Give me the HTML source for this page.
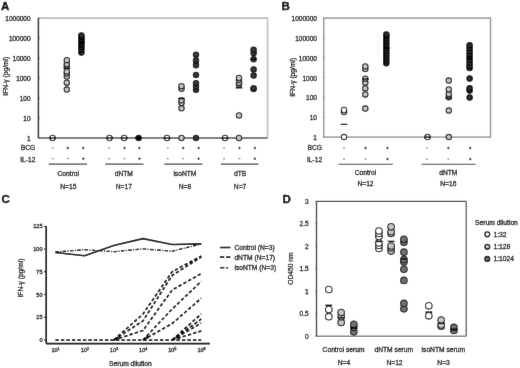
<!DOCTYPE html>
<html><head><meta charset="utf-8"><style>
html,body{margin:0;padding:0;background:#fff;}
svg{display:block;font-family:"Liberation Sans", sans-serif;}
</style></head><body>
<svg width="520" height="368" viewBox="0 0 520 368">
<defs><filter id="bl" x="0" y="0" width="1" height="1" filterUnits="objectBoundingBox"><feConvolveMatrix order="3" kernelMatrix="0.00276 0.04704 0.00276 0.04704 0.80077 0.04704 0.00276 0.04704 0.00276" edgeMode="duplicate" preserveAlpha="true"/></filter></defs>
<rect width="520" height="368" fill="#fff"/>
<g filter="url(#bl)">
<rect width="520" height="368" fill="#fff"/>
<text x="1.0" y="9.8" font-size="11.5" font-weight="bold" fill="#000" stroke="#000" stroke-width="0.35">A</text>
<line x1="38.4" y1="18.1" x2="267.6" y2="18.1" stroke="#bdbdbd" stroke-width="1.6" />
<line x1="267.6" y1="18.1" x2="267.6" y2="138.0" stroke="#bdbdbd" stroke-width="1.6" />
<line x1="38.4" y1="138.0" x2="267.6" y2="138.0" stroke="#555" stroke-width="1.3" />
<line x1="38.4" y1="18.1" x2="38.4" y2="138.0" stroke="#333" stroke-width="1.6" />
<text x="30.6" y="138.0" font-size="6.5" text-anchor="end" font-weight="normal" fill="#222" stroke="#222" stroke-width="0.3" dominant-baseline="central" >1</text>
<line x1="38.4" y1="138.0" x2="39.9" y2="138.0" stroke="#555" stroke-width="0.8" />
<text x="30.6" y="118.01666666666667" font-size="6.5" text-anchor="end" font-weight="normal" fill="#222" stroke="#222" stroke-width="0.3" dominant-baseline="central" >10</text>
<line x1="38.4" y1="118.01666666666667" x2="39.9" y2="118.01666666666667" stroke="#555" stroke-width="0.8" />
<text x="30.6" y="98.03333333333333" font-size="6.5" text-anchor="end" font-weight="normal" fill="#222" stroke="#222" stroke-width="0.3" dominant-baseline="central" >100</text>
<line x1="38.4" y1="98.03333333333333" x2="39.9" y2="98.03333333333333" stroke="#555" stroke-width="0.8" />
<text x="30.6" y="78.04999999999998" font-size="6.5" text-anchor="end" font-weight="normal" fill="#222" stroke="#222" stroke-width="0.3" dominant-baseline="central" >1000</text>
<line x1="38.4" y1="78.04999999999998" x2="39.9" y2="78.04999999999998" stroke="#555" stroke-width="0.8" />
<text x="30.6" y="58.06666666666666" font-size="6.5" text-anchor="end" font-weight="normal" fill="#222" stroke="#222" stroke-width="0.3" dominant-baseline="central" >10000</text>
<line x1="38.4" y1="58.06666666666666" x2="39.9" y2="58.06666666666666" stroke="#555" stroke-width="0.8" />
<text x="30.6" y="38.08333333333333" font-size="6.5" text-anchor="end" font-weight="normal" fill="#222" stroke="#222" stroke-width="0.3" dominant-baseline="central" >100000</text>
<line x1="38.4" y1="38.08333333333333" x2="39.9" y2="38.08333333333333" stroke="#555" stroke-width="0.8" />
<text x="30.6" y="18.09999999999998" font-size="6.5" text-anchor="end" font-weight="normal" fill="#222" stroke="#222" stroke-width="0.3" dominant-baseline="central" >1000000</text>
<line x1="38.4" y1="18.09999999999998" x2="39.9" y2="18.09999999999998" stroke="#555" stroke-width="0.8" />
<text x="5.9" y="76.2" font-size="6.7" text-anchor="middle" font-weight="normal" fill="#222" stroke="#222" stroke-width="0.3" dominant-baseline="central" transform="rotate(-90 5.9 76.2)">IFN-γ (pg/ml)</text>
<text x="35.3" y="147.4" font-size="6.7" text-anchor="end" font-weight="normal" fill="#222" stroke="#222" stroke-width="0.3" dominant-baseline="central" >BCG</text>
<text x="35.5" y="159.2" font-size="6.7" text-anchor="end" font-weight="normal" fill="#222" stroke="#222" stroke-width="0.3" dominant-baseline="central" >IL-12</text>
<line x1="51.800000000000004" y1="148" x2="53.6" y2="148" stroke="#555" stroke-width="0.9" />
<line x1="66.7" y1="148" x2="69.10000000000001" y2="148" stroke="#111" stroke-width="0.9" />
<line x1="67.9" y1="146.8" x2="67.9" y2="149.2" stroke="#111" stroke-width="0.9" />
<line x1="82.0" y1="148" x2="84.4" y2="148" stroke="#111" stroke-width="0.9" />
<line x1="83.2" y1="146.8" x2="83.2" y2="149.2" stroke="#111" stroke-width="0.9" />
<line x1="51.800000000000004" y1="158.7" x2="53.6" y2="158.7" stroke="#555" stroke-width="0.9" />
<line x1="67.0" y1="158.7" x2="68.80000000000001" y2="158.7" stroke="#555" stroke-width="0.9" />
<line x1="82.0" y1="158.7" x2="84.4" y2="158.7" stroke="#111" stroke-width="0.9" />
<line x1="83.2" y1="157.5" x2="83.2" y2="159.89999999999998" stroke="#111" stroke-width="0.9" />
<line x1="108.19999999999999" y1="148" x2="110.0" y2="148" stroke="#555" stroke-width="0.9" />
<line x1="123.3" y1="148" x2="125.7" y2="148" stroke="#111" stroke-width="0.9" />
<line x1="124.5" y1="146.8" x2="124.5" y2="149.2" stroke="#111" stroke-width="0.9" />
<line x1="138.20000000000002" y1="148" x2="140.6" y2="148" stroke="#111" stroke-width="0.9" />
<line x1="139.4" y1="146.8" x2="139.4" y2="149.2" stroke="#111" stroke-width="0.9" />
<line x1="108.19999999999999" y1="158.7" x2="110.0" y2="158.7" stroke="#555" stroke-width="0.9" />
<line x1="123.6" y1="158.7" x2="125.4" y2="158.7" stroke="#555" stroke-width="0.9" />
<line x1="138.20000000000002" y1="158.7" x2="140.6" y2="158.7" stroke="#111" stroke-width="0.9" />
<line x1="139.4" y1="157.5" x2="139.4" y2="159.89999999999998" stroke="#111" stroke-width="0.9" />
<line x1="166.9" y1="148" x2="168.70000000000002" y2="148" stroke="#555" stroke-width="0.9" />
<line x1="182.0" y1="148" x2="184.39999999999998" y2="148" stroke="#111" stroke-width="0.9" />
<line x1="183.2" y1="146.8" x2="183.2" y2="149.2" stroke="#111" stroke-width="0.9" />
<line x1="197.4" y1="148" x2="199.79999999999998" y2="148" stroke="#111" stroke-width="0.9" />
<line x1="198.6" y1="146.8" x2="198.6" y2="149.2" stroke="#111" stroke-width="0.9" />
<line x1="166.9" y1="158.7" x2="168.70000000000002" y2="158.7" stroke="#555" stroke-width="0.9" />
<line x1="182.29999999999998" y1="158.7" x2="184.1" y2="158.7" stroke="#555" stroke-width="0.9" />
<line x1="197.4" y1="158.7" x2="199.79999999999998" y2="158.7" stroke="#111" stroke-width="0.9" />
<line x1="198.6" y1="157.5" x2="198.6" y2="159.89999999999998" stroke="#111" stroke-width="0.9" />
<line x1="223.2" y1="148" x2="225.0" y2="148" stroke="#555" stroke-width="0.9" />
<line x1="238.3" y1="148" x2="240.7" y2="148" stroke="#111" stroke-width="0.9" />
<line x1="239.5" y1="146.8" x2="239.5" y2="149.2" stroke="#111" stroke-width="0.9" />
<line x1="253.70000000000002" y1="148" x2="256.1" y2="148" stroke="#111" stroke-width="0.9" />
<line x1="254.9" y1="146.8" x2="254.9" y2="149.2" stroke="#111" stroke-width="0.9" />
<line x1="223.2" y1="158.7" x2="225.0" y2="158.7" stroke="#555" stroke-width="0.9" />
<line x1="238.6" y1="158.7" x2="240.4" y2="158.7" stroke="#555" stroke-width="0.9" />
<line x1="253.70000000000002" y1="158.7" x2="256.1" y2="158.7" stroke="#111" stroke-width="0.9" />
<line x1="254.9" y1="157.5" x2="254.9" y2="159.89999999999998" stroke="#111" stroke-width="0.9" />
<line x1="48.8" y1="164.1" x2="86.9" y2="164.1" stroke="#444" stroke-width="1.1" />
<line x1="105.2" y1="164.1" x2="143.5" y2="164.1" stroke="#444" stroke-width="1.1" />
<line x1="164.3" y1="164.1" x2="202.5" y2="164.1" stroke="#444" stroke-width="1.1" />
<line x1="220.9" y1="164.1" x2="258.5" y2="164.1" stroke="#444" stroke-width="1.1" />
<text x="68.3" y="173.9" font-size="6.7" text-anchor="middle" font-weight="normal" fill="#222" stroke="#222" stroke-width="0.3" dominant-baseline="central" >Control</text>
<text x="68.3" y="186.1" font-size="6.7" text-anchor="middle" font-weight="normal" fill="#222" stroke="#222" stroke-width="0.3" dominant-baseline="central" >N=15</text>
<text x="123.8" y="173.9" font-size="6.7" text-anchor="middle" font-weight="normal" fill="#222" stroke="#222" stroke-width="0.3" dominant-baseline="central" >dNTM</text>
<text x="123.8" y="186.1" font-size="6.7" text-anchor="middle" font-weight="normal" fill="#222" stroke="#222" stroke-width="0.3" dominant-baseline="central" >N=17</text>
<text x="184.9" y="173.9" font-size="6.7" text-anchor="middle" font-weight="normal" fill="#222" stroke="#222" stroke-width="0.3" dominant-baseline="central" >isoNTM</text>
<text x="184.9" y="186.1" font-size="6.7" text-anchor="middle" font-weight="normal" fill="#222" stroke="#222" stroke-width="0.3" dominant-baseline="central" >N=8</text>
<text x="240.1" y="173.9" font-size="6.7" text-anchor="middle" font-weight="normal" fill="#222" stroke="#222" stroke-width="0.3" dominant-baseline="central" >dTB</text>
<text x="240.1" y="186.1" font-size="6.7" text-anchor="middle" font-weight="normal" fill="#222" stroke="#222" stroke-width="0.3" dominant-baseline="central" >N=7</text>
<circle cx="52.6" cy="138.0" r="2.7" fill="#ffffff" stroke="#222" stroke-width="1.1"/>
<line x1="49.2" y1="138.0" x2="56.0" y2="138.0" stroke="#000" stroke-width="1.3" />
<circle cx="66.8" cy="89.6" r="2.7" fill="#c4c4c4" stroke="#222" stroke-width="1.1"/>
<circle cx="66.8" cy="82.7" r="2.7" fill="#c4c4c4" stroke="#222" stroke-width="1.1"/>
<circle cx="66.8" cy="76.5" r="2.7" fill="#c4c4c4" stroke="#222" stroke-width="1.1"/>
<circle cx="66.8" cy="73.5" r="2.7" fill="#c4c4c4" stroke="#222" stroke-width="1.1"/>
<circle cx="66.8" cy="71.5" r="2.7" fill="#c4c4c4" stroke="#222" stroke-width="1.1"/>
<circle cx="66.8" cy="66" r="2.7" fill="#c4c4c4" stroke="#222" stroke-width="1.1"/>
<circle cx="66.8" cy="64" r="2.7" fill="#c4c4c4" stroke="#222" stroke-width="1.1"/>
<circle cx="66.8" cy="60.2" r="2.7" fill="#c4c4c4" stroke="#222" stroke-width="1.1"/>
<line x1="63.4" y1="68.2" x2="70.2" y2="68.2" stroke="#000" stroke-width="1.3" />
<circle cx="81.4" cy="52.4" r="2.7" fill="#2e2e2e" stroke="#000" stroke-width="1.1"/>
<circle cx="81.4" cy="49.5" r="2.7" fill="#2e2e2e" stroke="#000" stroke-width="1.1"/>
<circle cx="81.4" cy="47" r="2.7" fill="#2e2e2e" stroke="#000" stroke-width="1.1"/>
<circle cx="81.4" cy="45" r="2.7" fill="#2e2e2e" stroke="#000" stroke-width="1.1"/>
<circle cx="81.4" cy="43" r="2.7" fill="#2e2e2e" stroke="#000" stroke-width="1.1"/>
<circle cx="81.4" cy="41" r="2.7" fill="#2e2e2e" stroke="#000" stroke-width="1.1"/>
<circle cx="81.4" cy="39" r="2.7" fill="#2e2e2e" stroke="#000" stroke-width="1.1"/>
<circle cx="81.4" cy="37" r="2.7" fill="#2e2e2e" stroke="#000" stroke-width="1.1"/>
<circle cx="81.4" cy="35.4" r="2.7" fill="#2e2e2e" stroke="#000" stroke-width="1.1"/>
<line x1="78.0" y1="42.5" x2="84.80000000000001" y2="42.5" stroke="#000" stroke-width="1.3" />
<circle cx="109.5" cy="138.0" r="2.7" fill="#ffffff" stroke="#222" stroke-width="1.1"/>
<line x1="106.1" y1="138.0" x2="112.9" y2="138.0" stroke="#000" stroke-width="1.3" />
<circle cx="124.2" cy="138.0" r="2.7" fill="#ffffff" stroke="#222" stroke-width="1.1"/>
<line x1="120.8" y1="138.0" x2="127.60000000000001" y2="138.0" stroke="#000" stroke-width="1.3" />
<circle cx="138.6" cy="138.0" r="2.7" fill="#111" stroke="#000" stroke-width="1.1"/>
<line x1="135.2" y1="138.0" x2="142.0" y2="138.0" stroke="#000" stroke-width="1.3" />
<circle cx="167" cy="138.0" r="2.7" fill="#ffffff" stroke="#222" stroke-width="1.1"/>
<line x1="163.6" y1="138.0" x2="170.4" y2="138.0" stroke="#000" stroke-width="1.3" />
<circle cx="181.5" cy="138.0" r="2.7" fill="#c4c4c4" stroke="#222" stroke-width="1.1"/>
<circle cx="181.5" cy="108.3" r="2.7" fill="#c4c4c4" stroke="#222" stroke-width="1.1"/>
<circle cx="181.5" cy="103" r="2.7" fill="#c4c4c4" stroke="#222" stroke-width="1.1"/>
<circle cx="181.5" cy="100.3" r="2.7" fill="#c4c4c4" stroke="#222" stroke-width="1.1"/>
<circle cx="181.5" cy="88.8" r="2.7" fill="#c4c4c4" stroke="#222" stroke-width="1.1"/>
<circle cx="181.5" cy="86.2" r="2.7" fill="#c4c4c4" stroke="#222" stroke-width="1.1"/>
<line x1="178.1" y1="98.6" x2="184.9" y2="98.6" stroke="#000" stroke-width="1.3" />
<circle cx="196" cy="138.0" r="2.7" fill="#383838" stroke="#111" stroke-width="1.1"/>
<circle cx="196" cy="89.8" r="2.7" fill="#383838" stroke="#111" stroke-width="1.1"/>
<circle cx="196" cy="86.5" r="2.7" fill="#383838" stroke="#111" stroke-width="1.1"/>
<circle cx="196" cy="83.2" r="2.7" fill="#383838" stroke="#111" stroke-width="1.1"/>
<circle cx="196" cy="75.1" r="2.7" fill="#383838" stroke="#111" stroke-width="1.1"/>
<circle cx="196" cy="65.3" r="2.7" fill="#383838" stroke="#111" stroke-width="1.1"/>
<circle cx="196" cy="60.4" r="2.7" fill="#383838" stroke="#111" stroke-width="1.1"/>
<circle cx="196" cy="54.7" r="2.7" fill="#383838" stroke="#111" stroke-width="1.1"/>
<circle cx="225" cy="138.0" r="2.7" fill="#ffffff" stroke="#222" stroke-width="1.1"/>
<line x1="221.6" y1="138.0" x2="228.4" y2="138.0" stroke="#000" stroke-width="1.3" />
<circle cx="239" cy="138.0" r="2.7" fill="#c4c4c4" stroke="#222" stroke-width="1.1"/>
<circle cx="239" cy="115.5" r="2.7" fill="#c4c4c4" stroke="#222" stroke-width="1.1"/>
<circle cx="239" cy="84.4" r="2.7" fill="#c4c4c4" stroke="#222" stroke-width="1.1"/>
<circle cx="239" cy="82.8" r="2.7" fill="#c4c4c4" stroke="#222" stroke-width="1.1"/>
<circle cx="239" cy="80" r="2.7" fill="#c4c4c4" stroke="#222" stroke-width="1.1"/>
<circle cx="239" cy="77.9" r="2.7" fill="#c4c4c4" stroke="#222" stroke-width="1.1"/>
<line x1="235.6" y1="87.8" x2="242.4" y2="87.8" stroke="#000" stroke-width="1.3" />
<circle cx="253.6" cy="89" r="2.7" fill="#383838" stroke="#111" stroke-width="1.1"/>
<circle cx="253.6" cy="88.2" r="2.7" fill="#383838" stroke="#111" stroke-width="1.1"/>
<circle cx="253.6" cy="75.6" r="2.7" fill="#383838" stroke="#111" stroke-width="1.1"/>
<circle cx="253.6" cy="69.4" r="2.7" fill="#383838" stroke="#111" stroke-width="1.1"/>
<circle cx="253.6" cy="59.3" r="2.7" fill="#383838" stroke="#111" stroke-width="1.1"/>
<circle cx="253.6" cy="53.1" r="2.7" fill="#383838" stroke="#111" stroke-width="1.1"/>
<circle cx="253.6" cy="49.8" r="2.7" fill="#383838" stroke="#111" stroke-width="1.1"/>
<line x1="250.2" y1="59.3" x2="257.0" y2="59.3" stroke="#000" stroke-width="1.3" />
<text x="281.6" y="10.1" font-size="11.5" font-weight="bold" fill="#000" stroke="#000" stroke-width="0.35">B</text>
<rect x="323.7" y="18.1" width="166.8" height="119.0" fill="none" stroke="#999" stroke-width="1.5"/>
<text x="316.9" y="137.5" font-size="6.5" text-anchor="end" font-weight="normal" fill="#222" stroke="#222" stroke-width="0.3" dominant-baseline="central" >1</text>
<line x1="323.7" y1="137.1" x2="325.2" y2="137.1" stroke="#999" stroke-width="0.8" />
<text x="316.9" y="117.66666666666667" font-size="6.5" text-anchor="end" font-weight="normal" fill="#222" stroke="#222" stroke-width="0.3" dominant-baseline="central" >10</text>
<line x1="323.7" y1="117.26666666666667" x2="325.2" y2="117.26666666666667" stroke="#999" stroke-width="0.8" />
<text x="316.9" y="97.83333333333334" font-size="6.5" text-anchor="end" font-weight="normal" fill="#222" stroke="#222" stroke-width="0.3" dominant-baseline="central" >100</text>
<line x1="323.7" y1="97.43333333333334" x2="325.2" y2="97.43333333333334" stroke="#999" stroke-width="0.8" />
<text x="316.9" y="78.0" font-size="6.5" text-anchor="end" font-weight="normal" fill="#222" stroke="#222" stroke-width="0.3" dominant-baseline="central" >1000</text>
<line x1="323.7" y1="77.6" x2="325.2" y2="77.6" stroke="#999" stroke-width="0.8" />
<text x="316.9" y="58.166666666666664" font-size="6.5" text-anchor="end" font-weight="normal" fill="#222" stroke="#222" stroke-width="0.3" dominant-baseline="central" >10000</text>
<line x1="323.7" y1="57.766666666666666" x2="325.2" y2="57.766666666666666" stroke="#999" stroke-width="0.8" />
<text x="316.9" y="38.33333333333332" font-size="6.5" text-anchor="end" font-weight="normal" fill="#222" stroke="#222" stroke-width="0.3" dominant-baseline="central" >100000</text>
<line x1="323.7" y1="37.93333333333332" x2="325.2" y2="37.93333333333332" stroke="#999" stroke-width="0.8" />
<text x="316.9" y="18.499999999999993" font-size="6.5" text-anchor="end" font-weight="normal" fill="#222" stroke="#222" stroke-width="0.3" dominant-baseline="central" >1000000</text>
<line x1="323.7" y1="18.099999999999994" x2="325.2" y2="18.099999999999994" stroke="#999" stroke-width="0.8" />
<text x="292.7" y="77.3" font-size="6.7" text-anchor="middle" font-weight="normal" fill="#222" stroke="#222" stroke-width="0.3" dominant-baseline="central" transform="rotate(-90 292.7 77.3)">IFN-γ (pg/ml)</text>
<text x="322" y="147.4" font-size="6.7" text-anchor="end" font-weight="normal" fill="#222" stroke="#222" stroke-width="0.3" dominant-baseline="central" >BCG</text>
<text x="322.2" y="159.6" font-size="6.7" text-anchor="end" font-weight="normal" fill="#222" stroke="#222" stroke-width="0.3" dominant-baseline="central" >IL-12</text>
<line x1="343.1" y1="148" x2="344.9" y2="148" stroke="#555" stroke-width="0.9" />
<line x1="364.40000000000003" y1="148" x2="366.8" y2="148" stroke="#111" stroke-width="0.9" />
<line x1="365.6" y1="146.8" x2="365.6" y2="149.2" stroke="#111" stroke-width="0.9" />
<line x1="386.3" y1="148" x2="388.7" y2="148" stroke="#111" stroke-width="0.9" />
<line x1="387.5" y1="146.8" x2="387.5" y2="149.2" stroke="#111" stroke-width="0.9" />
<line x1="343.1" y1="159.1" x2="344.9" y2="159.1" stroke="#555" stroke-width="0.9" />
<line x1="364.70000000000005" y1="159.1" x2="366.5" y2="159.1" stroke="#555" stroke-width="0.9" />
<line x1="386.3" y1="159.1" x2="388.7" y2="159.1" stroke="#111" stroke-width="0.9" />
<line x1="387.5" y1="157.9" x2="387.5" y2="160.29999999999998" stroke="#111" stroke-width="0.9" />
<line x1="426.0" y1="148" x2="427.79999999999995" y2="148" stroke="#555" stroke-width="0.9" />
<line x1="447.1" y1="148" x2="449.5" y2="148" stroke="#111" stroke-width="0.9" />
<line x1="448.3" y1="146.8" x2="448.3" y2="149.2" stroke="#111" stroke-width="0.9" />
<line x1="469.0" y1="148" x2="471.4" y2="148" stroke="#111" stroke-width="0.9" />
<line x1="470.2" y1="146.8" x2="470.2" y2="149.2" stroke="#111" stroke-width="0.9" />
<line x1="426.0" y1="159.1" x2="427.79999999999995" y2="159.1" stroke="#555" stroke-width="0.9" />
<line x1="447.40000000000003" y1="159.1" x2="449.2" y2="159.1" stroke="#555" stroke-width="0.9" />
<line x1="469.0" y1="159.1" x2="471.4" y2="159.1" stroke="#111" stroke-width="0.9" />
<line x1="470.2" y1="157.9" x2="470.2" y2="160.29999999999998" stroke="#111" stroke-width="0.9" />
<line x1="338.7" y1="164.3" x2="392.9" y2="164.3" stroke="#444" stroke-width="1.1" />
<line x1="421.7" y1="164.3" x2="475.7" y2="164.3" stroke="#444" stroke-width="1.1" />
<text x="365.5" y="172.4" font-size="6.7" text-anchor="middle" font-weight="normal" fill="#222" stroke="#222" stroke-width="0.3" dominant-baseline="central" >Control</text>
<text x="365.5" y="183.9" font-size="6.7" text-anchor="middle" font-weight="normal" fill="#222" stroke="#222" stroke-width="0.3" dominant-baseline="central" >N=12</text>
<text x="448.3" y="172.4" font-size="6.7" text-anchor="middle" font-weight="normal" fill="#222" stroke="#222" stroke-width="0.3" dominant-baseline="central" >dNTM</text>
<text x="448.3" y="183.9" font-size="6.7" text-anchor="middle" font-weight="normal" fill="#222" stroke="#222" stroke-width="0.3" dominant-baseline="central" >N=16</text>
<circle cx="344" cy="137.1" r="2.7" fill="#ffffff" stroke="#222" stroke-width="1.1"/>
<circle cx="344" cy="111.9" r="2.7" fill="#ffffff" stroke="#222" stroke-width="1.1"/>
<circle cx="344" cy="110" r="2.7" fill="#ffffff" stroke="#222" stroke-width="1.1"/>
<line x1="340.6" y1="124.4" x2="347.4" y2="124.4" stroke="#000" stroke-width="1.3" />
<circle cx="365.3" cy="108.6" r="2.7" fill="#c4c4c4" stroke="#222" stroke-width="1.1"/>
<circle cx="365.3" cy="94.4" r="2.7" fill="#c4c4c4" stroke="#222" stroke-width="1.1"/>
<circle cx="365.3" cy="88.4" r="2.7" fill="#c4c4c4" stroke="#222" stroke-width="1.1"/>
<circle cx="365.3" cy="82.7" r="2.7" fill="#c4c4c4" stroke="#222" stroke-width="1.1"/>
<circle cx="365.3" cy="78.7" r="2.7" fill="#c4c4c4" stroke="#222" stroke-width="1.1"/>
<circle cx="365.3" cy="69" r="2.7" fill="#c4c4c4" stroke="#222" stroke-width="1.1"/>
<circle cx="365.3" cy="66.5" r="2.7" fill="#c4c4c4" stroke="#222" stroke-width="1.1"/>
<line x1="361.90000000000003" y1="79" x2="368.7" y2="79" stroke="#000" stroke-width="1.3" />
<circle cx="386.3" cy="63.3" r="2.7" fill="#2e2e2e" stroke="#000" stroke-width="1.1"/>
<circle cx="386.3" cy="61" r="2.7" fill="#2e2e2e" stroke="#000" stroke-width="1.1"/>
<circle cx="386.3" cy="58.5" r="2.7" fill="#2e2e2e" stroke="#000" stroke-width="1.1"/>
<circle cx="386.3" cy="56" r="2.7" fill="#2e2e2e" stroke="#000" stroke-width="1.1"/>
<circle cx="386.3" cy="53.5" r="2.7" fill="#2e2e2e" stroke="#000" stroke-width="1.1"/>
<circle cx="386.3" cy="51" r="2.7" fill="#2e2e2e" stroke="#000" stroke-width="1.1"/>
<circle cx="386.3" cy="48.5" r="2.7" fill="#2e2e2e" stroke="#000" stroke-width="1.1"/>
<circle cx="386.3" cy="46" r="2.7" fill="#2e2e2e" stroke="#000" stroke-width="1.1"/>
<circle cx="386.3" cy="43.5" r="2.7" fill="#2e2e2e" stroke="#000" stroke-width="1.1"/>
<circle cx="386.3" cy="41" r="2.7" fill="#2e2e2e" stroke="#000" stroke-width="1.1"/>
<circle cx="386.3" cy="38.5" r="2.7" fill="#2e2e2e" stroke="#000" stroke-width="1.1"/>
<circle cx="386.3" cy="36" r="2.7" fill="#2e2e2e" stroke="#000" stroke-width="1.1"/>
<circle cx="386.3" cy="34.5" r="2.7" fill="#2e2e2e" stroke="#000" stroke-width="1.1"/>
<line x1="382.90000000000003" y1="48" x2="389.7" y2="48" stroke="#000" stroke-width="1.3" />
<circle cx="427.5" cy="137.1" r="2.7" fill="#ffffff" stroke="#222" stroke-width="1.1"/>
<line x1="424.1" y1="137.1" x2="430.9" y2="137.1" stroke="#000" stroke-width="1.3" />
<circle cx="448.8" cy="137.1" r="2.7" fill="#c4c4c4" stroke="#222" stroke-width="1.1"/>
<circle cx="448.8" cy="110.6" r="2.7" fill="#c4c4c4" stroke="#222" stroke-width="1.1"/>
<circle cx="448.8" cy="97.2" r="2.7" fill="#c4c4c4" stroke="#222" stroke-width="1.1"/>
<circle cx="448.8" cy="94" r="2.7" fill="#c4c4c4" stroke="#222" stroke-width="1.1"/>
<circle cx="448.8" cy="89.4" r="2.7" fill="#c4c4c4" stroke="#222" stroke-width="1.1"/>
<circle cx="448.8" cy="80.6" r="2.7" fill="#c4c4c4" stroke="#222" stroke-width="1.1"/>
<line x1="445.40000000000003" y1="98" x2="452.2" y2="98" stroke="#000" stroke-width="1.3" />
<circle cx="469.6" cy="97.5" r="2.7" fill="#2e2e2e" stroke="#000" stroke-width="1.1"/>
<circle cx="469.6" cy="90.6" r="2.7" fill="#2e2e2e" stroke="#000" stroke-width="1.1"/>
<circle cx="469.6" cy="88.3" r="2.7" fill="#2e2e2e" stroke="#000" stroke-width="1.1"/>
<circle cx="469.6" cy="78.4" r="2.7" fill="#2e2e2e" stroke="#000" stroke-width="1.1"/>
<circle cx="469.6" cy="68" r="2.7" fill="#2e2e2e" stroke="#000" stroke-width="1.1"/>
<circle cx="469.6" cy="66" r="2.7" fill="#2e2e2e" stroke="#000" stroke-width="1.1"/>
<circle cx="469.6" cy="63" r="2.7" fill="#2e2e2e" stroke="#000" stroke-width="1.1"/>
<circle cx="469.6" cy="60" r="2.7" fill="#2e2e2e" stroke="#000" stroke-width="1.1"/>
<circle cx="469.6" cy="57" r="2.7" fill="#2e2e2e" stroke="#000" stroke-width="1.1"/>
<circle cx="469.6" cy="54" r="2.7" fill="#2e2e2e" stroke="#000" stroke-width="1.1"/>
<circle cx="469.6" cy="51" r="2.7" fill="#2e2e2e" stroke="#000" stroke-width="1.1"/>
<circle cx="469.6" cy="48" r="2.7" fill="#2e2e2e" stroke="#000" stroke-width="1.1"/>
<circle cx="469.6" cy="45.3" r="2.7" fill="#2e2e2e" stroke="#000" stroke-width="1.1"/>
<line x1="466.20000000000005" y1="57.9" x2="473.0" y2="57.9" stroke="#000" stroke-width="1.3" />
<text x="1.6" y="203.1" font-size="11.5" font-weight="bold" fill="#000" stroke="#000" stroke-width="0.35">C</text>
<line x1="46.2" y1="226.3" x2="46.2" y2="343.6" stroke="#000" stroke-width="1.7" />
<line x1="46.2" y1="343.6" x2="210" y2="343.6" stroke="#000" stroke-width="1.7" />
<line x1="44.0" y1="340.0" x2="46.2" y2="340.0" stroke="#111" stroke-width="1" />
<text x="42.6" y="340.0" font-size="5.6" text-anchor="end" font-weight="normal" fill="#222" stroke="#222" stroke-width="0.3" dominant-baseline="central" >0</text>
<line x1="44.0" y1="317.26" x2="46.2" y2="317.26" stroke="#111" stroke-width="1" />
<text x="42.6" y="317.26" font-size="5.6" text-anchor="end" font-weight="normal" fill="#222" stroke="#222" stroke-width="0.3" dominant-baseline="central" >25</text>
<line x1="44.0" y1="294.52" x2="46.2" y2="294.52" stroke="#111" stroke-width="1" />
<text x="42.6" y="294.52" font-size="5.6" text-anchor="end" font-weight="normal" fill="#222" stroke="#222" stroke-width="0.3" dominant-baseline="central" >50</text>
<line x1="44.0" y1="271.78" x2="46.2" y2="271.78" stroke="#111" stroke-width="1" />
<text x="42.6" y="271.78" font-size="5.6" text-anchor="end" font-weight="normal" fill="#222" stroke="#222" stroke-width="0.3" dominant-baseline="central" >75</text>
<line x1="44.0" y1="249.04000000000002" x2="46.2" y2="249.04000000000002" stroke="#111" stroke-width="1" />
<text x="42.6" y="249.04000000000002" font-size="5.6" text-anchor="end" font-weight="normal" fill="#222" stroke="#222" stroke-width="0.3" dominant-baseline="central" >100</text>
<line x1="44.0" y1="226.3" x2="46.2" y2="226.3" stroke="#111" stroke-width="1" />
<text x="42.6" y="226.3" font-size="5.6" text-anchor="end" font-weight="normal" fill="#222" stroke="#222" stroke-width="0.3" dominant-baseline="central" >125</text>
<text x="54.6" y="350.2" font-size="5.6" text-anchor="middle" font-weight="normal" fill="#222" stroke="#222" stroke-width="0.3" dominant-baseline="central" >10</text>
<text x="57.6" y="348.6" font-size="3.9" text-anchor="start" font-weight="normal" fill="#222" stroke="#222" stroke-width="0.3" dominant-baseline="central" >1</text>
<text x="83.78" y="350.2" font-size="5.6" text-anchor="middle" font-weight="normal" fill="#222" stroke="#222" stroke-width="0.3" dominant-baseline="central" >10</text>
<text x="86.78" y="348.6" font-size="3.9" text-anchor="start" font-weight="normal" fill="#222" stroke="#222" stroke-width="0.3" dominant-baseline="central" >2</text>
<text x="112.96" y="350.2" font-size="5.6" text-anchor="middle" font-weight="normal" fill="#222" stroke="#222" stroke-width="0.3" dominant-baseline="central" >10</text>
<text x="115.96" y="348.6" font-size="3.9" text-anchor="start" font-weight="normal" fill="#222" stroke="#222" stroke-width="0.3" dominant-baseline="central" >3</text>
<text x="142.14" y="350.2" font-size="5.6" text-anchor="middle" font-weight="normal" fill="#222" stroke="#222" stroke-width="0.3" dominant-baseline="central" >10</text>
<text x="145.14" y="348.6" font-size="3.9" text-anchor="start" font-weight="normal" fill="#222" stroke="#222" stroke-width="0.3" dominant-baseline="central" >4</text>
<text x="171.32" y="350.2" font-size="5.6" text-anchor="middle" font-weight="normal" fill="#222" stroke="#222" stroke-width="0.3" dominant-baseline="central" >10</text>
<text x="174.32" y="348.6" font-size="3.9" text-anchor="start" font-weight="normal" fill="#222" stroke="#222" stroke-width="0.3" dominant-baseline="central" >5</text>
<text x="200.5" y="350.2" font-size="5.6" text-anchor="middle" font-weight="normal" fill="#222" stroke="#222" stroke-width="0.3" dominant-baseline="central" >10</text>
<text x="203.5" y="348.6" font-size="3.9" text-anchor="start" font-weight="normal" fill="#222" stroke="#222" stroke-width="0.3" dominant-baseline="central" >6</text>
<text x="130.4" y="363.4" font-size="6.7" text-anchor="middle" font-weight="normal" fill="#222" stroke="#222" stroke-width="0.3" dominant-baseline="central" >Serum dilution</text>
<text x="20.2" y="278" font-size="6.7" text-anchor="middle" font-weight="normal" fill="#222" stroke="#222" stroke-width="0.3" dominant-baseline="central" transform="rotate(-90 20.2 278)">IFN-γ (pg/ml)</text>
<polyline points="55.40,252.50 84.58,255.77 113.76,245.49 142.94,238.67 172.12,244.49 201.30,243.95" fill="none" stroke="#000" stroke-width="1.7"  stroke-linejoin="round"/>
<polyline points="55.40,252.04 84.58,249.68 113.76,251.68 142.94,248.86 172.12,251.22 201.30,243.95" fill="none" stroke="#000" stroke-width="1.4" stroke-dasharray="3.6,1.3,1.1,1.3" stroke-dashoffset="0" stroke-linejoin="round"/>
<polyline points="55.40,340.00 84.58,340.00 113.76,340.00 142.94,340.00 172.12,340.00 201.30,340.00" fill="none" stroke="#000" stroke-width="1.75" stroke-dasharray="3.4,2.1" stroke-dashoffset="0" stroke-linejoin="round"/>
<polyline points="113.76,340.00 142.94,314.08 172.12,271.78 201.30,256.04" fill="none" stroke="#000" stroke-width="1.75" stroke-dasharray="3.4,2.1" stroke-dashoffset="0" stroke-linejoin="round"/>
<polyline points="113.76,340.00 142.94,320.90 172.12,275.42 201.30,256.95" fill="none" stroke="#000" stroke-width="1.75" stroke-dasharray="3.4,2.1" stroke-dashoffset="0" stroke-linejoin="round"/>
<polyline points="113.76,340.00 142.94,330.54 172.12,289.97 201.30,273.60" fill="none" stroke="#000" stroke-width="1.75" stroke-dasharray="3.4,2.1" stroke-dashoffset="0" stroke-linejoin="round"/>
<polyline points="142.94,340.00 172.12,309.07 201.30,281.33" fill="none" stroke="#000" stroke-width="1.75" stroke-dasharray="3.4,2.1" stroke-dashoffset="0" stroke-linejoin="round"/>
<polyline points="142.94,340.00 172.12,323.63 201.30,298.16" fill="none" stroke="#000" stroke-width="1.75" stroke-dasharray="3.4,2.1" stroke-dashoffset="0" stroke-linejoin="round"/>
<polyline points="172.12,340.00 201.30,313.89" fill="none" stroke="#000" stroke-width="1.75" stroke-dasharray="3.4,2.1" stroke-dashoffset="0" stroke-linejoin="round"/>
<polyline points="172.12,340.00 201.30,319.08" fill="none" stroke="#000" stroke-width="1.75" stroke-dasharray="3.4,2.1" stroke-dashoffset="0" stroke-linejoin="round"/>
<polyline points="172.12,340.00 201.30,322.99" fill="none" stroke="#000" stroke-width="1.75" stroke-dasharray="3.4,2.1" stroke-dashoffset="0" stroke-linejoin="round"/>
<polyline points="172.12,340.00 201.30,330.90" fill="none" stroke="#000" stroke-width="1.75" stroke-dasharray="3.4,2.1" stroke-dashoffset="0" stroke-linejoin="round"/>
<ellipse cx="117.2" cy="338.2" rx="1.6" ry="1.4" fill="#111"/>
<ellipse cx="147.2" cy="337.5" rx="1.6" ry="1.4" fill="#111"/>
<ellipse cx="177" cy="337.2" rx="1.6" ry="1.4" fill="#111"/>
<line x1="220" y1="247.5" x2="230.4" y2="247.5" stroke="#000" stroke-width="1.6" />
<line x1="220" y1="257.1" x2="230.4" y2="257.1" stroke="#000" stroke-width="1.6" stroke-dasharray="4.2,2"/>
<line x1="220" y1="267.7" x2="224.4" y2="267.7" stroke="#000" stroke-width="1.5" />
<line x1="226.1" y1="267.7" x2="228.1" y2="267.7" stroke="#000" stroke-width="1.5" />
<text x="234.4" y="247.6" font-size="6.7" text-anchor="start" font-weight="normal" fill="#222" stroke="#222" stroke-width="0.3" dominant-baseline="central" >Control (N=3)</text>
<text x="234.4" y="257.2" font-size="6.7" text-anchor="start" font-weight="normal" fill="#222" stroke="#222" stroke-width="0.3" dominant-baseline="central" >dNTM (N=17)</text>
<text x="234.4" y="267.8" font-size="6.7" text-anchor="start" font-weight="normal" fill="#222" stroke="#222" stroke-width="0.3" dominant-baseline="central" >isoNTM (N=3)</text>
<text x="282.4" y="203.1" font-size="11.5" font-weight="bold" fill="#000" stroke="#000" stroke-width="0.35">D</text>
<line x1="316.5" y1="201.4" x2="466.3" y2="201.4" stroke="#444" stroke-width="1.4" />
<line x1="466.3" y1="201.4" x2="466.3" y2="336.2" stroke="#666" stroke-width="1.4" />
<line x1="316.5" y1="336.2" x2="466.3" y2="336.2" stroke="#888" stroke-width="1.4" />
<line x1="316.5" y1="201.4" x2="316.5" y2="336.2" stroke="#444" stroke-width="1.4" />
<text x="308.6" y="336.2" font-size="6.5" text-anchor="end" font-weight="normal" fill="#222" stroke="#222" stroke-width="0.3" dominant-baseline="central" >0</text>
<line x1="315.0" y1="336.2" x2="316.5" y2="336.2" stroke="#666" stroke-width="0.8" />
<text x="308.6" y="313.73333333333335" font-size="6.5" text-anchor="end" font-weight="normal" fill="#222" stroke="#222" stroke-width="0.3" dominant-baseline="central" >0.5</text>
<line x1="315.0" y1="313.73333333333335" x2="316.5" y2="313.73333333333335" stroke="#666" stroke-width="0.8" />
<text x="308.6" y="291.26666666666665" font-size="6.5" text-anchor="end" font-weight="normal" fill="#222" stroke="#222" stroke-width="0.3" dominant-baseline="central" >1</text>
<line x1="315.0" y1="291.26666666666665" x2="316.5" y2="291.26666666666665" stroke="#666" stroke-width="0.8" />
<text x="308.6" y="268.8" font-size="6.5" text-anchor="end" font-weight="normal" fill="#222" stroke="#222" stroke-width="0.3" dominant-baseline="central" >1.5</text>
<line x1="315.0" y1="268.8" x2="316.5" y2="268.8" stroke="#666" stroke-width="0.8" />
<text x="308.6" y="246.33333333333331" font-size="6.5" text-anchor="end" font-weight="normal" fill="#222" stroke="#222" stroke-width="0.3" dominant-baseline="central" >2</text>
<line x1="315.0" y1="246.33333333333331" x2="316.5" y2="246.33333333333331" stroke="#666" stroke-width="0.8" />
<text x="308.6" y="223.86666666666667" font-size="6.5" text-anchor="end" font-weight="normal" fill="#222" stroke="#222" stroke-width="0.3" dominant-baseline="central" >2.5</text>
<line x1="315.0" y1="223.86666666666667" x2="316.5" y2="223.86666666666667" stroke="#666" stroke-width="0.8" />
<text x="308.6" y="201.4" font-size="6.5" text-anchor="end" font-weight="normal" fill="#222" stroke="#222" stroke-width="0.3" dominant-baseline="central" >3</text>
<line x1="315.0" y1="201.4" x2="316.5" y2="201.4" stroke="#666" stroke-width="0.8" />
<text x="290.8" y="268.6" font-size="6.7" text-anchor="middle" font-weight="normal" fill="#222" stroke="#222" stroke-width="0.3" dominant-baseline="central" transform="rotate(-90 290.8 268.6)">OD450 nm</text>
<text x="343.6" y="349.7" font-size="6.7" text-anchor="middle" font-weight="normal" fill="#222" stroke="#222" stroke-width="0.3" dominant-baseline="central" >Control serum</text>
<text x="344" y="362.9" font-size="6.7" text-anchor="middle" font-weight="normal" fill="#222" stroke="#222" stroke-width="0.3" dominant-baseline="central" >N=4</text>
<text x="393.8" y="349.7" font-size="6.7" text-anchor="middle" font-weight="normal" fill="#222" stroke="#222" stroke-width="0.3" dominant-baseline="central" >dNTM serum</text>
<text x="394.5" y="362.9" font-size="6.7" text-anchor="middle" font-weight="normal" fill="#222" stroke="#222" stroke-width="0.3" dominant-baseline="central" >N=12</text>
<text x="443.3" y="349.7" font-size="6.7" text-anchor="middle" font-weight="normal" fill="#222" stroke="#222" stroke-width="0.3" dominant-baseline="central" >isoNTM serum</text>
<text x="443.6" y="362.9" font-size="6.7" text-anchor="middle" font-weight="normal" fill="#222" stroke="#222" stroke-width="0.3" dominant-baseline="central" >N=3</text>
<circle cx="328.8" cy="316.7" r="3.3" fill="#ffffff" stroke="#222" stroke-width="1.1"/>
<circle cx="328.8" cy="309.5" r="3.3" fill="#ffffff" stroke="#222" stroke-width="1.1"/>
<circle cx="328.8" cy="289.5" r="3.3" fill="#ffffff" stroke="#222" stroke-width="1.1"/>
<line x1="325.40000000000003" y1="305.3" x2="332.2" y2="305.3" stroke="#000" stroke-width="1.4" />
<circle cx="341.2" cy="322.4" r="3.3" fill="#c4c4c4" stroke="#222" stroke-width="1.1"/>
<circle cx="341.2" cy="316.7" r="3.3" fill="#c4c4c4" stroke="#222" stroke-width="1.1"/>
<circle cx="341.2" cy="312.6" r="3.3" fill="#c4c4c4" stroke="#222" stroke-width="1.1"/>
<line x1="337.8" y1="317.8" x2="344.59999999999997" y2="317.8" stroke="#000" stroke-width="1.4" />
<circle cx="353.8" cy="331.8" r="3.3" fill="#707070" stroke="#222" stroke-width="1.1"/>
<circle cx="353.8" cy="327.3" r="3.3" fill="#707070" stroke="#222" stroke-width="1.1"/>
<circle cx="353.8" cy="324.3" r="3.3" fill="#707070" stroke="#222" stroke-width="1.1"/>
<line x1="350.40000000000003" y1="328.1" x2="357.2" y2="328.1" stroke="#000" stroke-width="1.4" />
<circle cx="378.9" cy="248.5" r="3.3" fill="#ffffff" stroke="#222" stroke-width="1.1"/>
<circle cx="378.9" cy="245.5" r="3.3" fill="#ffffff" stroke="#222" stroke-width="1.1"/>
<circle cx="378.9" cy="243" r="3.3" fill="#ffffff" stroke="#222" stroke-width="1.1"/>
<circle cx="378.9" cy="236.5" r="3.3" fill="#ffffff" stroke="#222" stroke-width="1.1"/>
<circle cx="378.9" cy="233.5" r="3.3" fill="#ffffff" stroke="#222" stroke-width="1.1"/>
<circle cx="378.9" cy="231" r="3.3" fill="#ffffff" stroke="#222" stroke-width="1.1"/>
<line x1="375.5" y1="241.5" x2="382.29999999999995" y2="241.5" stroke="#000" stroke-width="1.4" />
<circle cx="391.1" cy="251.1" r="3.3" fill="#c4c4c4" stroke="#222" stroke-width="1.1"/>
<circle cx="391.1" cy="248" r="3.3" fill="#c4c4c4" stroke="#222" stroke-width="1.1"/>
<circle cx="391.1" cy="246" r="3.3" fill="#c4c4c4" stroke="#222" stroke-width="1.1"/>
<circle cx="391.1" cy="233.4" r="3.3" fill="#c4c4c4" stroke="#222" stroke-width="1.1"/>
<circle cx="391.1" cy="231.7" r="3.3" fill="#c4c4c4" stroke="#222" stroke-width="1.1"/>
<circle cx="391.1" cy="226.8" r="3.3" fill="#c4c4c4" stroke="#222" stroke-width="1.1"/>
<line x1="387.70000000000005" y1="241.4" x2="394.5" y2="241.4" stroke="#000" stroke-width="1.4" />
<circle cx="403.9" cy="308.8" r="3.3" fill="#707070" stroke="#222" stroke-width="1.1"/>
<circle cx="403.9" cy="303.4" r="3.3" fill="#707070" stroke="#222" stroke-width="1.1"/>
<circle cx="403.9" cy="280.4" r="3.3" fill="#707070" stroke="#222" stroke-width="1.1"/>
<circle cx="403.9" cy="269.3" r="3.3" fill="#707070" stroke="#222" stroke-width="1.1"/>
<circle cx="403.9" cy="261.9" r="3.3" fill="#707070" stroke="#222" stroke-width="1.1"/>
<circle cx="403.9" cy="259.6" r="3.3" fill="#707070" stroke="#222" stroke-width="1.1"/>
<circle cx="403.9" cy="252.2" r="3.3" fill="#707070" stroke="#222" stroke-width="1.1"/>
<circle cx="403.9" cy="242.3" r="3.3" fill="#707070" stroke="#222" stroke-width="1.1"/>
<circle cx="403.9" cy="239.3" r="3.3" fill="#707070" stroke="#222" stroke-width="1.1"/>
<line x1="400.5" y1="258.9" x2="407.29999999999995" y2="258.9" stroke="#000" stroke-width="1.4" />
<circle cx="428.8" cy="315.8" r="3.3" fill="#ffffff" stroke="#222" stroke-width="1.1"/>
<circle cx="428.8" cy="305.8" r="3.3" fill="#ffffff" stroke="#222" stroke-width="1.1"/>
<line x1="425.40000000000003" y1="312.1" x2="432.2" y2="312.1" stroke="#000" stroke-width="1.4" />
<circle cx="441.2" cy="326.2" r="3.3" fill="#c4c4c4" stroke="#222" stroke-width="1.1"/>
<circle cx="441.2" cy="325" r="3.3" fill="#c4c4c4" stroke="#222" stroke-width="1.1"/>
<circle cx="441.2" cy="320.1" r="3.3" fill="#c4c4c4" stroke="#222" stroke-width="1.1"/>
<line x1="437.8" y1="323.4" x2="444.59999999999997" y2="323.4" stroke="#000" stroke-width="1.4" />
<circle cx="453.9" cy="330.5" r="3.3" fill="#707070" stroke="#222" stroke-width="1.1"/>
<circle cx="453.9" cy="327.4" r="3.3" fill="#707070" stroke="#222" stroke-width="1.1"/>
<line x1="450.5" y1="329.2" x2="457.29999999999995" y2="329.2" stroke="#000" stroke-width="1.4" />
<text x="475.1" y="222.6" font-size="6.7" text-anchor="start" font-weight="normal" fill="#222" stroke="#222" stroke-width="0.3" dominant-baseline="central" >Serum dilution</text>
<circle cx="487.3" cy="234.3" r="2.4" fill="#ffffff" stroke="#111" stroke-width="1.35"/>
<text x="493.5" y="234.3" font-size="6.7" text-anchor="start" font-weight="normal" fill="#222" stroke="#222" stroke-width="0.3" dominant-baseline="central" >1:32</text>
<circle cx="487.3" cy="246.8" r="2.4" fill="#c4c4c4" stroke="#111" stroke-width="1.35"/>
<text x="493.5" y="246.8" font-size="6.7" text-anchor="start" font-weight="normal" fill="#222" stroke="#222" stroke-width="0.3" dominant-baseline="central" >1:128</text>
<circle cx="487.3" cy="258.9" r="2.4" fill="#707070" stroke="#111" stroke-width="1.35"/>
<text x="493.5" y="258.9" font-size="6.7" text-anchor="start" font-weight="normal" fill="#222" stroke="#222" stroke-width="0.3" dominant-baseline="central" >1:1024</text>
</g>
</svg></body></html>
